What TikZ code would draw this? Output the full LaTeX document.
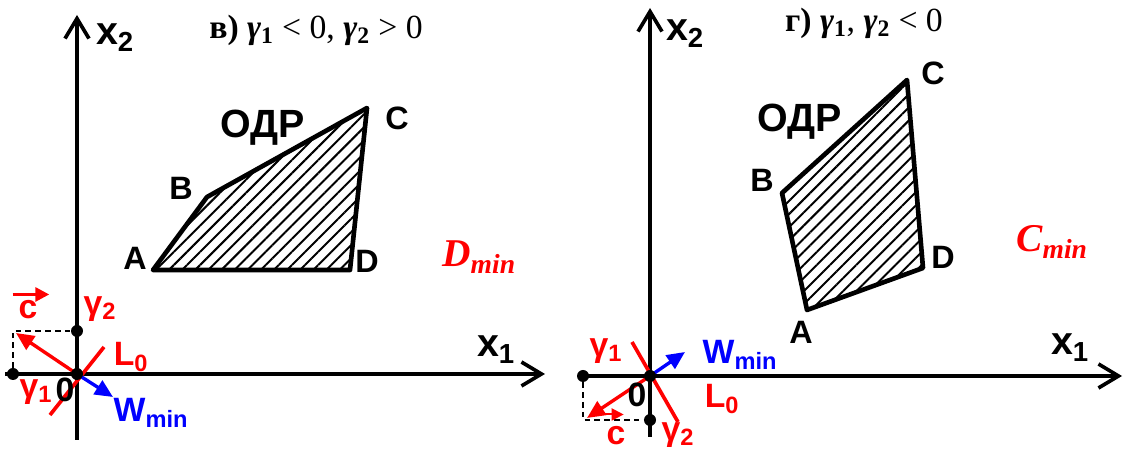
\documentclass[tikz,border=0pt]{standalone}
\usepackage[no-math]{fontspec}
\setmainfont{Liberation Sans}
\newfontfamily\serifcyr{Liberation Serif}
\usetikzlibrary{arrows.meta,patterns.meta}

\begin{document}
\begin{tikzpicture}[font=\bfseries,
  axis/.style={line width=2.6pt, -{Straight Barb[length=5mm,width=6mm]}},
  vec/.style={line width=2.4pt, -{Triangle[length=4.5mm,width=4mm]}},
  region/.style={line width=3.3pt, line join=round,
    pattern={Lines[angle=45,distance=6.6pt,line width=1.4pt]}},
  dot/.style={circle, fill, inner sep=0pt, minimum size=3mm},
  proj/.style={dash pattern=on 4pt off 3pt, line width=0.9pt},
  vert/.style={font=\fontsize{23}{23}\bfseries\selectfont},
  odr/.style={font=\fontsize{28}{28}\bfseries\selectfont},
  axlbl/.style={font=\fontsize{28}{28}\bfseries\selectfont},
  sym/.style={font=\fontsize{24}{24}\bfseries\selectfont},
  ttl/.style={font=\fontsize{24}{24}\serifcyr\selectfont},
  optlbl/.style={font=\fontsize{28}{28}\serifcyr\bfseries\itshape\selectfont, text=red}]
  \useasboundingbox (0,0) rectangle (28.15,11.3);

  % panel v)
  \begin{scope}[shift={(1.925,1.95)}]
    \coordinate (vO) at (0,0);
    \coordinate (vX0) at (-1.8,0);
    \coordinate (vX1) at (11.7,0);
    \coordinate (vY0) at (0,-1.65);
    \coordinate (vY1) at (0,8.975);
    \coordinate (vA) at (1.9,2.6);
    \coordinate (vB) at (3.25,4.425);
    \coordinate (vC) at (7.25,6.65);
    \coordinate (vD) at (6.825,2.6);
    \coordinate (vK) at (-1.6,1.075);
    \coordinate (vc) at (-1.525,1.025);
    \coordinate (vL1) at (-0.675,-1.025);
    \coordinate (vL2) at (0.675,0.675);
    \coordinate (vW) at (0.9,-0.575);

    \draw[axis] (vX0) -- (vX1);
    \draw[axis] (vY0) -- (vY1);
    \draw[region] (vA) -- (vB) -- (vC) -- (vD) -- cycle;

    \node[dot] (vg1) at (-1.6,0) {};
    \node[dot] (vg2) at (0,1.075) {};
    \draw[proj] (vg1) -- (vK) -- (vg2);
    \draw[red, line width=2.6pt] (vL1) -- (vL2);
    \draw[vec, red] (vO) -- (vc);
    \draw[vec, blue] (vO) -- (vW);
    \fill (vO) circle (1.5mm);

    \node[vert] at (1.45,2.9) {A};
    \node[vert] at (2.6,4.65) {B};
    \node[vert] at (8.0,6.4) {C};
    \node[vert] at (7.25,2.825) {D};
    \node[odr] at (4.65,6.15) {ОДР};
    \node[axlbl] at (0.95,8.4) {x\textsubscript{2}};
    \node[axlbl] at (10.475,0.6) {x\textsubscript{1}};
    \node[ttl] at (5.975,8.6) {\textbf{в)} \textbf{\textit{γ}}\textsubscript{\textbf{1}} <~0, \textbf{\textit{γ}}\textsubscript{\textbf{2}} >~0};
    \node[optlbl] at (10.05,2.925) {D\textsubscript{min}};
    \node[sym, text=red, inner sep=0pt] (vcl) at (-1.225,1.6) {c};
    \draw[red, line width=2.2pt, -{Triangle[length=3.5mm,width=3.5mm]}]
      ([xshift=-1.4mm,yshift=1.5mm]vcl.north west) -- ([xshift=2.9mm,yshift=1.5mm]vcl.north east);
    \node[sym, text=red] at (0.575,1.625) {γ\textsubscript{2}};
    \node[sym, text=red] at (-1.025,-0.45) {γ\textsubscript{1}};
    \node[sym] at (-0.3,-0.4) {0};
    \node[sym, text=red] at (1.35,0.425) {L\textsubscript{0}};
    \node[sym, text=blue] at (1.85,-0.975) {W\textsubscript{min}};
  \end{scope}

  % panel g)
  \begin{scope}[shift={(16.25,1.9)}]
    \coordinate (gO) at (0,0);
    \coordinate (gX0) at (-1.8,0);
    \coordinate (gX1) at (11.8,0);
    \coordinate (gY0) at (0,-1.525);
    \coordinate (gY1) at (0,9.2);
    \coordinate (gA) at (3.925,1.65);
    \coordinate (gB) at (3.3,4.575);
    \coordinate (gC) at (6.425,7.4);
    \coordinate (gD) at (6.825,2.7);
    \coordinate (gK) at (-1.675,-1.1);
    \coordinate (gc) at (-1.575,-1.05);
    \coordinate (gL1) at (-0.45,0.85);
    \coordinate (gL2) at (0.7,-1.15);
    \coordinate (gW) at (0.875,0.6);

    \draw[axis] (gX0) -- (gX1);
    \draw[axis] (gY0) -- (gY1);
    \draw[region] (gA) -- (gB) -- (gC) -- (gD) -- cycle;

    \node[dot] (gg1) at (-1.675,0) {};
    \node[dot] (gg2) at (0,-1.1) {};
    \draw[proj] (gg1) -- (gK) -- (gg2);
    \draw[red, line width=2.6pt] (gL1) -- (gL2);
    \draw[vec, red] (gO) -- (gc);
    \draw[vec, blue] (gO) -- (gW);
    \fill (gO) circle (1.5mm);

    \node[vert] at (3.775,1.1) {A};
    \node[vert] at (2.8,4.9) {B};
    \node[vert] at (7.075,7.575) {C};
    \node[vert] at (7.325,2.975) {D};
    \node[odr] at (3.75,6.35) {ОДР};
    \node[axlbl] at (0.875,8.55) {x\textsubscript{2}};
    \node[axlbl] at (10.5,0.7) {x\textsubscript{1}};
    \node[ttl] at (5.35,8.825) {\textbf{г)} \textbf{\textit{γ}}\textsubscript{\textbf{1}}, \textbf{\textit{γ}}\textsubscript{\textbf{2}} <~0};
    \node[optlbl] at (10.05,3.35) {C\textsubscript{min}};
    \node[sym, text=red, inner sep=0pt] (gcl) at (-0.85,-1.5) {c};
    \draw[red, line width=1.4pt, -{Triangle[length=3mm,width=3mm]}]
      ([xshift=-4mm,yshift=3mm]gcl.north west) -- ([xshift=-0.5mm,yshift=3mm]gcl.north east);
    \node[sym, text=red] at (0.7,-1.475) {γ\textsubscript{2}};
    \node[sym, text=red] at (-1.1,0.625) {γ\textsubscript{1}};
    \node[sym] at (-0.325,-0.475) {0};
    \node[sym, text=red] at (1.8,-0.575) {L\textsubscript{0}};
    \node[sym, text=blue] at (2.25,0.525) {W\textsubscript{min}};
  \end{scope}
\end{tikzpicture}
\end{document}
